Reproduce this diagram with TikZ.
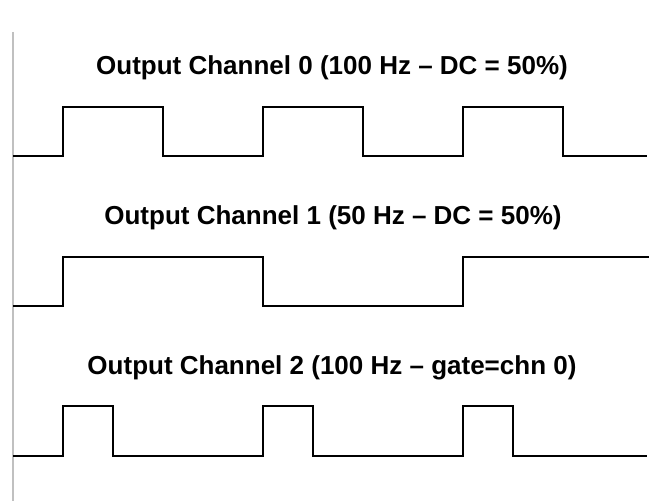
\documentclass[tikz,border=0pt]{standalone}
\usepackage{fontspec}
\setmainfont{Liberation Sans}
\usepackage{xcolor}
\usetikzlibrary{positioning}
\definecolor{axisgrey}{RGB}{192,192,192}

\begin{document}
\begin{tikzpicture}[x=1pt,y=1pt,every node/.style={font=\fontsize{26}{30}\selectfont\bfseries,inner sep=0pt},
  wave/.style={line width=2pt,line join=miter},
  axis/.style={axisgrey,line width=2pt}]
\useasboundingbox (0,0) rectangle (649,501);
\coordinate (top) at (13,469);
\coordinate (bot) at (13,0);
\draw[axis] (top) -- (bot);
% titles
\node[anchor=base] (title0) at (332,426) {Output Channel 0 (100 Hz -- DC = 50\%)};
\node[anchor=base] (title1) at (333,276) {Output Channel 1 (50 Hz -- DC = 50\%)};
\node[anchor=base] (title2) at (332,126) {Output Channel 2 (100 Hz -- gate=chn 0)};
% channel 0
\draw[wave] (13,345) -- (63,345) -- (63,394) -- (163,394) -- (163,345) -- (263,345) -- (263,394)
  -- (363,394) -- (363,345) -- (463,345) -- (463,394) -- (563,394) -- (563,345) -- (647,345);
% channel 1
\draw[wave] (13,195) -- (63,195) -- (63,244) -- (263,244) -- (263,195) -- (463,195) -- (463,244) -- (649,244);
% channel 2
\draw[wave] (13,45) -- (63,45) -- (63,95) -- (113,95) -- (113,45) -- (263,45) -- (263,95) -- (313,95)
  -- (313,45) -- (463,45) -- (463,95) -- (513,95) -- (513,45) -- (647,45);
\end{tikzpicture}
\end{document}
